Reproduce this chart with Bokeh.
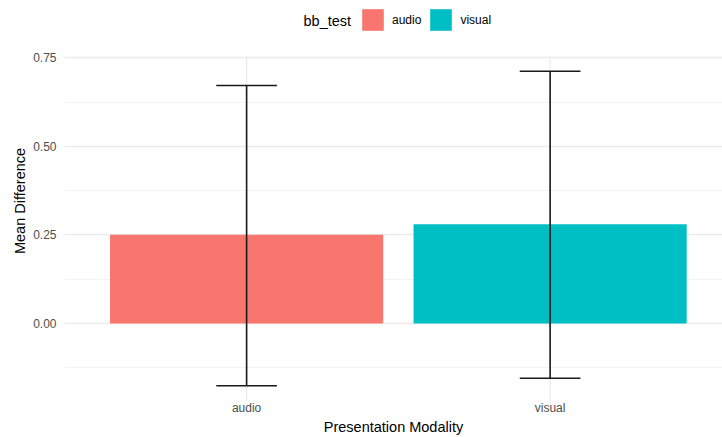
from bokeh.plotting import figure
from bokeh.models import (ColumnDataSource, Range1d, FixedTicker, Legend, LegendItem,
                          Label, NumeralTickFormatter)
from bokeh.embed import file_html
from bokeh.resources import INLINE

# Mean difference per presentation modality, with confidence limits
modality = ["audio", "visual"]
mean_diff = [0.25, 0.28]
ci_lower = [-0.176, -0.155]
ci_upper = [0.672, 0.712]
colors = ["#F8766D", "#00BFC4"]

y_ticks = [0.0, 0.25, 0.5, 0.75]
y_minor = [-0.125, 0.125, 0.375, 0.625]

xpos = [i + 1 for i in range(len(modality))]
bar_w = 0.9
cap_w = 0.2

# panel limits (data units); the frame reaches higher to host the legend
panel_lo, panel_hi = -0.2206, 0.7564
frame_hi = 0.9119

src = ColumnDataSource(dict(
    x=xpos, top=mean_diff, lo=ci_lower, hi=ci_upper, color=colors, name=modality,
    cx0=[x - cap_w / 2 for x in xpos], cx1=[x + cap_w / 2 for x in xpos],
    g0=[panel_lo] * len(xpos), g1=[panel_hi] * len(xpos),
))

FONT = "Liberation Sans"

p = figure(width=722, height=437, output_backend="svg", toolbar_location=None,
           x_range=Range1d(0.4, 2.568), y_range=Range1d(panel_lo, frame_hi),
           min_border_left=64, min_border_right=0, min_border_top=0,
           min_border_bottom=36)
p.outline_line_color = None
p.background_fill_color = "white"
p.border_fill_color = "white"

# vertical grid lines limited to the panel
p.segment(x0="x", y0="g0", x1="x", y1="g1", source=src, line_color="#EBEBEB", line_width=1.3)

bar_renderers = []
for i, m in enumerate(modality):
    r = p.vbar(x=[xpos[i]], top=[mean_diff[i]], bottom=0, width=bar_w,
               fill_color=colors[i], line_color=None)
    bar_renderers.append(r)

# error bars: stem plus caps at both limits
err_col = "#1a1a1a"
p.segment(x0="x", y0="lo", x1="x", y1="hi", source=src, line_color=err_col, line_width=1.6)
p.segment(x0="cx0", y0="hi", x1="cx1", y1="hi", source=src, line_color=err_col, line_width=1.6)
p.segment(x0="cx0", y0="lo", x1="cx1", y1="lo", source=src, line_color=err_col, line_width=1.6)

# axes
p.xaxis.ticker = FixedTicker(ticks=xpos)
p.xaxis.major_label_overrides = {x: m for x, m in zip(xpos, modality)}
p.yaxis.ticker = FixedTicker(ticks=y_ticks, minor_ticks=y_minor)
p.yaxis.formatter = NumeralTickFormatter(format="0.00")

for ax in (p.xaxis, p.yaxis):
    ax.axis_line_color = None
    ax.major_tick_line_color = None
    ax.minor_tick_line_color = None
    ax.major_tick_out = 0
    ax.minor_tick_out = 0
    ax.major_label_text_font = FONT
    ax.major_label_text_font_size = "12px"
    ax.major_label_text_color = "#4D4D4D"
    ax.axis_label_text_font = FONT
    ax.axis_label_text_font_size = "14.5px"
    ax.axis_label_text_font_style = "normal"
    ax.axis_label_text_color = "black"

p.xaxis.axis_label = "Presentation Modality"
p.yaxis.axis_label = "Mean Difference"
p.xaxis.major_label_standoff = -1
p.xaxis.axis_label_standoff = 1
p.yaxis.major_label_standoff = 8
p.yaxis.axis_label_standoff = 2

# grid
p.xgrid.grid_line_color = None
p.ygrid.grid_line_color = "#EBEBEB"
p.ygrid.grid_line_width = 1.3
p.ygrid.minor_grid_line_color = "#F2F2F2"
p.ygrid.minor_grid_line_width = 1.0

# legend across the top (area keys are inset 10% inside the glyph box)
legend = Legend(items=[LegendItem(label=m, renderers=[r]) for m, r in zip(modality, bar_renderers)],
                orientation="horizontal", location=(295, 368),
                glyph_width=27, glyph_height=27, label_standoff=6, spacing=6,
                padding=0, margin=0, border_line_color=None, background_fill_alpha=0,
                label_text_font=FONT, label_text_font_size="12px", label_text_color="black",
                label_height=27)
p.add_layout(legend, "center")

p.add_layout(Label(x=239, y=381, x_units="screen", y_units="screen", text="bb_test",
                   text_font=FONT, text_font_size="14.5px", text_color="black",
                   text_baseline="middle", text_align="left"))

open("out.html", "w").write(file_html(p, INLINE))
